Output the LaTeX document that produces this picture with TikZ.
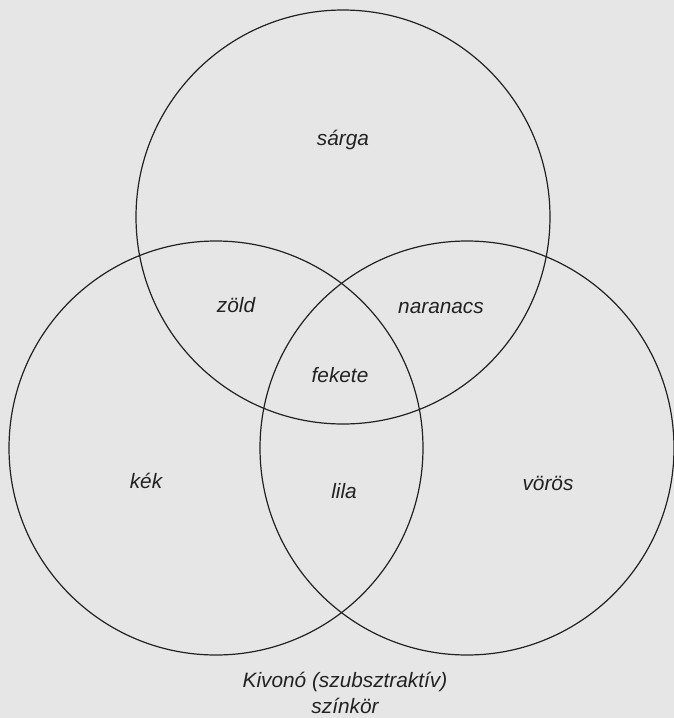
\documentclass[tikz,border=0pt]{standalone}
\usepackage{fontspec}
\setmainfont{Liberation Sans}
\usepackage{xcolor}
\usetikzlibrary{positioning}

\definecolor{paper}{HTML}{E6E6E6}
\definecolor{ink}{HTML}{222222}

\begin{document}
\begin{tikzpicture}[x=1pt,y=-1pt,
  font=\fontsize{20.8}{26}\selectfont\itshape,
  ring/.style={draw=ink,line width=1.2pt},
  lbl/.style={text=ink,inner sep=0pt}]
\fill[paper] (0,0) rectangle (674,718);
\useasboundingbox (0,0) rectangle (674,718);
% the three circles
\coordinate (ctop) at (343,217);
\coordinate (cleft) at (216,448);
\coordinate (cright) at (467,448);
\draw[ring] (ctop) circle[radius=207pt];
\draw[ring] (cleft) circle[radius=207pt];
\draw[ring] (cright) circle[radius=207pt];
% region names
\node[lbl] (sarga) at (343,140) {sárga};
\node[lbl] (zold) at (236,305) {zöld};
\node[lbl] (narancs) at (441,308) {naranacs};
\node[lbl] (fekete) at (340,375) {fekete};
\node[lbl] (kek) at (146,481) {kék};
\node[lbl] (lila) at (344,491) {lila};
\node[lbl] (voros) at (548,483) {vörös};
\node[lbl,align=center] (cim) at (345,693) {Kivonó (szubsztraktív)\\színkör};
\end{tikzpicture}
\end{document}
